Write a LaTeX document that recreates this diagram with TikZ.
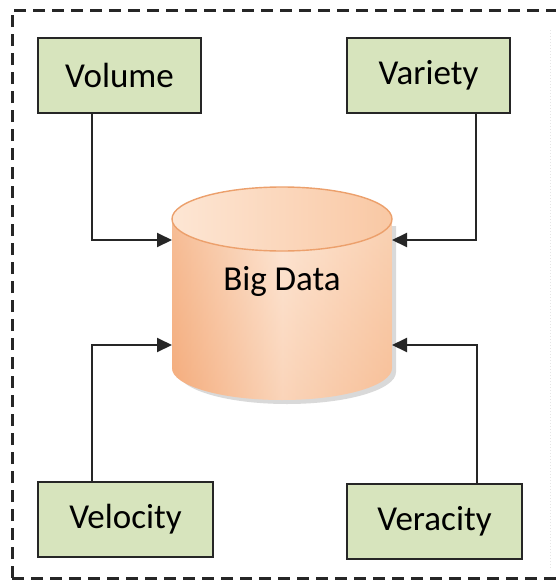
\documentclass[tikz,border=0pt]{standalone}
\usepackage{fontspec}
\setmainfont{Carlito}
\usetikzlibrary{arrows.meta,calc}
\definecolor{boxfill}{RGB}{215,228,189}
\definecolor{cyldark}{RGB}{244,172,124}
\definecolor{cylmid}{RGB}{249,200,164}
\definecolor{cyllight}{RGB}{253,230,212}
\definecolor{cylline}{RGB}{236,160,108}
\tikzset{
  vbox/.style={draw=black!85, line width=2pt, fill=boxfill, minimum width=163pt, minimum height=75pt, inner sep=0pt, font=\fontsize{35}{40}\selectfont},
  conn/.style={draw=black!85, line width=2pt, -{Triangle[length=15pt,width=14pt]}},
  frame/.style={draw=black!85, line width=3pt, dash pattern=on 12pt off 7pt},
}
\begin{document}
\begin{tikzpicture}[x=1pt,y=-1pt]
\useasboundingbox (0,0) rectangle (555,581);
\fill[white] (0,0) rectangle (555,581);
% frame
\draw[frame] (12,578) -- (12,10) -- (560,10);
\draw[frame] (12,578) -- (560,578);
\draw[gray!20, line width=1pt, dotted] (550,30) -- (550,570);
% boxes
\node[vbox] (vol) at (119.5,75.5) {Volume};
\node[vbox] (var) at (428.5,75.5) {Variety};
\node[vbox, minimum width=175pt] (vel) at (125.5,519) {Velocity};
\node[vbox, minimum width=175pt] (ver) at (434.5,521) {Veracity};
% cylinder
\fill[black!15] (178,226) -- (178,372) arc[start angle=180,end angle=0,x radius=109,y radius=32] -- (396,226) -- cycle;
\shade[left color=cyldark, right color=cylmid, middle color=cyllight]
  (172,219) -- (172,368) arc[start angle=180,end angle=0,x radius=110,y radius=32] -- (392,219) -- cycle;
\shade[top color=cyllight, bottom color=cyldark, opacity=0.3]
  (172,219) -- (172,368) arc[start angle=180,end angle=0,x radius=110,y radius=32] -- (392,219) -- cycle;
\shade[left color=cyllight, right color=cylmid, draw=cylline, line width=1.4pt]
  (282,219) ellipse[x radius=110, y radius=32];
\node[font=\fontsize{35}{40}\selectfont] (bd) at (282,281) {Big Data};
\coordinate (inL1) at (172,240);
\coordinate (inL2) at (172,345);
\coordinate (inR1) at (392,240);
\coordinate (inR2) at (392,345);
\coordinate (sVol) at ($(vol.south west)+(55,0)$);
\coordinate (sVar) at ($(var.south west)+(130,0)$);
\coordinate (sVel) at ($(vel.north west)+(55,0)$);
\coordinate (sVer) at ($(ver.north west)+(131,0)$);
% connectors
\draw[conn] (sVol) |- (inL1);
\draw[conn] (sVar) |- (inR1);
\draw[conn] (sVel) |- (inL2);
\draw[conn] (sVer) |- (inR2);
\end{tikzpicture}
\end{document}
